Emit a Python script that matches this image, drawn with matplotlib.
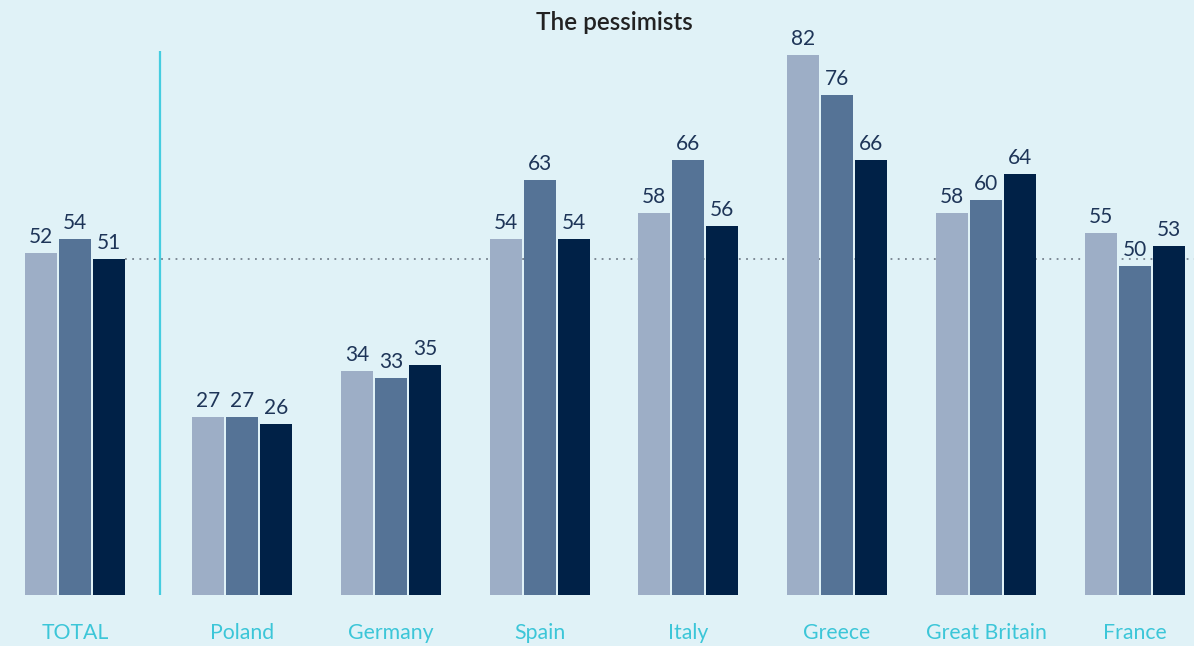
import matplotlib
matplotlib.use('Agg')
import matplotlib.pyplot as plt
import numpy as np

# ── data ────────────────────────────────────────────────────────────────── #
categories = ['TOTAL', 'Poland', 'Germany', 'Spain', 'Italy', 'Greece',
              'Great Britain', 'France']
wave_1 = [52, 27, 34, 54, 58, 82, 58, 55]
wave_2 = [54, 27, 33, 63, 66, 76, 60, 50]
wave_3 = [51, 26, 35, 54, 56, 66, 64, 53]

# ── style ───────────────────────────────────────────────────────────────── #
bg = '#e0f2f7'
bar_colors = ['#9daec6', '#557396', '#002147']
label_col = '#1e3558'
cat_col = '#3cc6d8'
plt.rcParams['font.family'] = ['Lato', 'DejaVu Sans']

W, H = 1194, 646
fig = plt.figure(figsize=(W / 100, H / 100), dpi=100, facecolor=bg)
ax = fig.add_axes([0, 51 / H, 1, 544 / H])
ax.set_facecolor(bg)

# group centres (in pixel units along x), TOTAL set apart from countries
centres = np.array([75, 242, 391, 540, 688, 837, 986, 1135])
bar_w = 32
step = 34

series = [wave_1, wave_2, wave_3]
for k, vals in enumerate(series):
    xs = centres + (k - 1) * step
    ax.bar(xs, vals, width=bar_w, color=bar_colors[k], linewidth=0, zorder=3)
    for x, v in zip(xs, vals):
        ax.text(x, v + 0.9, f'{v}', ha='center', va='bottom',
                fontsize=15, color=label_col, zorder=4)

ax.set_xlim(0, W)
ax.set_ylim(0, 544 / 6.585)

# reference line at the TOTAL value of the latest wave
ax.plot([centres[0] + step + bar_w / 2, W], [wave_3[0], wave_3[0]],
        color='#75818d', linestyle=(0, (1, 3)), linewidth=1.3, zorder=2)

# separator between TOTAL and the countries
ax.plot([160, 160], [0, 82.5], color='#45cde0', linewidth=1.6, zorder=2)

ax.axis('off')

for x, name in zip(centres, categories):
    fig.text(x / W, 1 - 633 / H, name, ha='center', va='center',
             fontsize=15.3, color=cat_col)

fig.text(614 / W, 1 - 22 / H, 'The pessimists', ha='center', va='center',
         fontsize=17.5, color='#222222', fontweight='semibold')

fig.savefig('out.png', dpi=100, facecolor=bg)
